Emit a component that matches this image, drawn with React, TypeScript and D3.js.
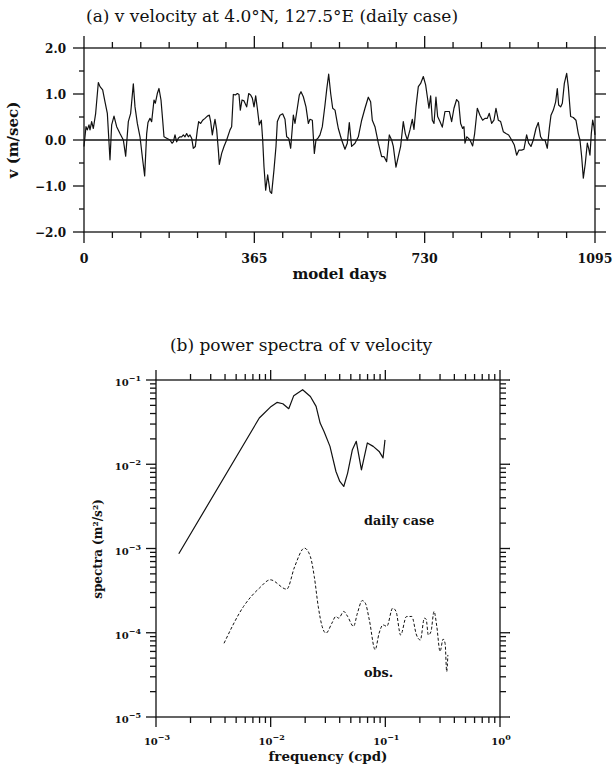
import React from "react";
import * as d3 from "d3";

// ---- Panel (a): daily v velocity time series ----
const days = [0,4.3,7.1,10.7,12.9,16.4,20,25,30.7,34.3,40,45,50,55.7,59.3,64.3,70,77.1,84.3,89.3,95,100,105.7,109.3,114.3,120,125.7,130,134.3,137.1,141.4,145,150,152.9,157.1,160.7,165,168.6,171.4,177.1,184.3,188.6,191.4,195,198.6,202.1,205.7,209.3,212.9,216.4,220,223.6,227.1,230.7,234.3,238.6,242.9,245.7,250,254.3,259.3,264.3,268.6,271.4,275,277.9,280.7,284.3,287.9,290,295,300,305.7,312.9,316.4,320,324.3,328.6,332.1,335,338.6,342.9,348.6,352.9,357.1,360.7,364.3,367.9,371.4,375.7,380,382.9,385.7,389.3,393.6,398.6,402.1,407.1,411.4,414.3,420,425.7,430.7,434.3,438.6,442.9,448.6,452.1,457.1,461.4,465,470,475.7,480.7,484.3,489.3,493.6,497.1,501.4,505.7,510.7,516.4,520,524.3,528.6,532.9,537.9,542.9,545,552.1,559.2,564.2,568.5,573.5,580.7,587.8,595,602.1,609.2,614.2,617.8,623.5,630.7,637.8,642.8,648.5,654.2,659.2,662.8,668.5,673.5,678.5,684.2,688.5,692.8,698.5,703.5,707.1,711.4,716.4,721.4,727.1,732.1,735.7,739.2,742.8,746.4,750,754.2,757.8,762.8,767.8,773.5,778.5,782.8,787.8,792.8,798.5,802.8,807.1,811.4,814.2,816.4,820,823.5,827.1,832.8,837.1,842.8,848.5,854.2,859.2,864.2,868.5,873.5,878.5,882.8,887.8,892.8,898.5,904.2,910,916.4,922.1,927.1,932.1,937.8,942.8,948.5,952.8,957.8,962.8,968.5,973.5,978.5,982.8,987.8,992.8,997.1,1000.7,1005.7,1010.7,1014.2,1017.1,1021.4,1025,1029.3,1034.3,1037.8,1042.8,1048.5,1054.2,1059.2,1062.8,1066.4,1070,1074.2,1078.5,1081.4,1084.2,1087.1,1090,1092.8,1095];
const vVel = [-0.14,0.29,0.22,0.33,0.22,0.40,0.25,0.58,1.25,1.16,1.09,0.83,0.58,-0.43,0.33,0.52,0.29,0.14,0.0,-0.35,0.40,0.58,1.22,0.72,0.36,0.07,-0.43,-0.78,0.14,0.38,0.47,0.40,0.87,0.80,1.01,1.12,0.87,0.43,0.07,0.04,0.0,-0.07,-0.04,0.11,-0.04,0.04,0.07,0.07,0.11,0.07,0.14,0.07,0.11,0.04,-0.18,-0.14,0.22,0.40,0.36,0.43,0.47,0.52,0.54,0.40,0.11,0.29,0.45,0.22,-0.22,-0.53,-0.29,-0.14,0.0,0.22,0.29,0.99,0.98,1.01,0.99,0.65,0.87,0.85,0.72,1.01,0.98,0.91,0.72,0.96,0.69,0.33,0.43,0.0,-0.58,-1.09,-0.76,-1.12,-1.16,-0.65,-0.14,0.40,0.54,0.57,0.45,0.07,0.04,-0.18,0.54,0.36,0.69,0.98,1.05,0.94,0.72,0.36,0.45,0.43,-0.29,0.0,0.04,0.11,0.29,0.76,1.09,1.43,1.01,0.69,0.65,0.36,0.25,0.0,-0.20,-0.07,0.38,-0.14,-0.07,0.07,0.43,0.69,0.93,0.83,0.43,0.29,-0.07,-0.36,-0.36,-0.47,0.11,0.0,-0.14,-0.59,-0.36,-0.14,0.40,0.14,0.0,0.22,0.45,0.23,0.72,1.16,1.23,1.38,1.20,0.94,0.69,0.96,0.43,0.36,0.93,0.51,0.40,0.28,0.62,0.62,0.62,0.40,0.69,0.88,0.83,0.36,0.25,0.29,-0.07,0.07,0.04,0.0,-0.13,0.14,0.69,0.54,0.43,0.47,0.47,0.58,0.36,0.43,0.69,0.43,0.40,0.18,0.14,0.11,0.0,-0.11,-0.33,-0.22,-0.22,-0.20,0.11,-0.07,-0.14,0.0,0.25,0.38,0.07,0.0,0.0,-0.18,0.25,0.54,0.65,0.83,1.12,0.76,0.72,0.80,1.23,1.45,1.16,0.51,0.49,0.43,0.14,0.0,-0.36,-0.83,-0.51,-0.07,-0.18,-0.33,0.14,0.43,0.29,0.11];
const dayTicks = [0, 365, 730, 1095];
const vTicks = [-2, -1, 0, 1, 2];
const vTickLabels = ["\u22122.0", "\u22121.0", "0.0", "1.0", "2.0"];

// ---- Panel (b): power spectra ----
const freqDaily = [0.00158,0.00796,0.0101,0.01135,0.01277,0.01438,0.0159,0.019,0.0222,0.0249,0.027,0.0292,0.0329,0.0371,0.0401,0.0434,0.0469,0.0516,0.0558,0.0619,0.0697,0.0784,0.0883,0.0955,0.0993];
const specDaily = [8.65e-4,0.0354,0.0486,0.0542,0.0523,0.0456,0.0652,0.0767,0.0638,0.0486,0.0308,0.0245,0.0163,0.0082,0.00625,0.00545,0.00785,0.0149,0.0187,0.0086,0.0179,0.0163,0.0142,0.0119,0.0195];
const freqObs = [0.00392,0.0058,0.00796,0.00993,0.0138,0.0162,0.0197,0.0222,0.024,0.026,0.0281,0.0304,0.0342,0.037,0.0392,0.0434,0.0469,0.0528,0.0571,0.0629,0.067,0.0725,0.0815,0.0883,0.0955,0.103,0.116,0.124,0.136,0.153,0.17,0.187,0.202,0.219,0.227,0.237,0.25,0.266,0.281,0.3,0.319,0.332,0.343,0.351];
const specObs = [7.5e-5,2.05e-4,3.38e-4,4.25e-4,3.29e-4,6.1e-4,1.01e-3,8.0e-4,4.65e-4,2.05e-4,1.19e-4,9.9e-5,1.3e-4,1.56e-4,1.49e-4,1.79e-4,1.56e-4,1.19e-4,1.71e-4,2.41e-4,2.24e-4,1.42e-4,6.3e-5,9.9e-5,1.24e-4,1.19e-4,1.96e-4,1.79e-4,9.4e-5,1.56e-4,1.56e-4,9.4e-5,8.2e-5,1.49e-4,1.45e-4,9.4e-5,1.03e-4,1.79e-4,1.19e-4,6.0e-5,8.4e-5,7.5e-5,3.46e-5,5.45e-5];
const decadeExps = [-3, -2, -1, 0];
const specExps = [-5, -4, -3, -2, -1];

const FONT = "'DejaVu Serif', serif";

export default function App() {
  // panel a scales
  const xA = d3.scaleLinear().domain([0, 1095]).range([84, 595]);
  const yA = d3.scaleLinear().domain([-2, 2]).range([232, 48]);
  const lineA = d3.line<number>().x((_, i) => xA(days[i])).y((d) => yA(d));
  const minorDays = d3.range(0, 1095.01, 365 / 6).filter((d) => !dayTicks.some((t) => Math.abs(t - d) < 1));
  const minorV = [-1.5, -0.5, 0.5, 1.5];

  // panel b scales
  const xB = d3.scaleLog().domain([1e-3, 1]).range([156, 500]);
  const yB = d3.scaleLog().domain([1e-5, 1e-1]).range([717, 380]);
  const lineDaily = d3.line<number>().x((_, i) => xB(freqDaily[i])).y((d) => yB(d));
  const lineObs = d3.line<number>().x((_, i) => xB(freqObs[i])).y((d) => yB(d)).curve(d3.curveMonotoneX);
  const minorF: number[] = [];
  for (const e of [-3, -2, -1]) for (let k = 2; k <= 9; k++) minorF.push(k * Math.pow(10, e));
  const minorS: number[] = [];
  for (const e of [-5, -4, -3, -2]) for (let k = 2; k <= 9; k++) minorS.push(k * Math.pow(10, e));

  const sw = 1.3;
  const [ax0, ax1] = xA.range();
  const [ayb, ayt] = yA.range();
  const [bx0, bx1] = xB.range();
  const [byb, byt] = yB.range();

  return (
    <svg width={613} height={767} style={{ position: "absolute", left: 0, top: 0, background: "#fff" }} fontFamily={FONT}>
      <rect x={0} y={0} width={613} height={767} fill="#fff" />
      {/* ===== Panel (a) ===== */}
      <text x={86} y={22} fontSize={17} fill="#111">(a) v velocity at 4.0°N, 127.5°E (daily case)</text>
      <g stroke="#111" strokeWidth={sw} fill="none">
        <rect x={ax0} y={ayt} width={ax1 - ax0} height={ayb - ayt} />
        <line x1={ax0} x2={ax1} y1={yA(0)} y2={yA(0)} />
        {dayTicks.map((t) => (
          <g key={"dt" + t}>
            <line x1={xA(t)} x2={xA(t)} y1={ayb} y2={ayb + 11} />
            <line x1={xA(t)} x2={xA(t)} y1={ayt} y2={ayt - 12} />
          </g>
        ))}
        {minorDays.map((t, i) => (
          <g key={"md" + i}>
            <line x1={xA(t)} x2={xA(t)} y1={ayb} y2={ayb + 6} />
            <line x1={xA(t)} x2={xA(t)} y1={ayt} y2={ayt - 6} />
          </g>
        ))}
        {vTicks.map((t) => (
          <g key={"vt" + t}>
            <line x1={ax0 - 11} x2={ax0} y1={yA(t)} y2={yA(t)} />
            <line x1={ax1} x2={ax1 + 11} y1={yA(t)} y2={yA(t)} />
          </g>
        ))}
        {minorV.map((t) => (
          <g key={"mv" + t}>
            <line x1={ax0 - 5} x2={ax0} y1={yA(t)} y2={yA(t)} />
            <line x1={ax1} x2={ax1 + 5} y1={yA(t)} y2={yA(t)} />
          </g>
        ))}
        <path d={lineA(vVel) || ""} strokeWidth={1.2} strokeLinejoin="round" />
      </g>
      {vTicks.map((t, i) => (
        <text key={"vl" + t} x={66} y={yA(t) + 4.5} fontSize={12} fontWeight="bold" textAnchor="end" fill="#111">{vTickLabels[i]}</text>
      ))}
      {dayTicks.map((t) => (
        <text key={"dl" + t} x={xA(t)} y={263} fontSize={12.5} fontWeight="bold" textAnchor="middle" fill="#111">{t}</text>
      ))}
      <text x={(ax0 + ax1) / 2} y={279} fontSize={15} fontWeight="bold" textAnchor="middle" fill="#111">model days</text>
      <text transform={`translate(18,${yA(0)}) rotate(-90)`} fontSize={15} fontWeight="bold" textAnchor="middle" fill="#111">v (m/sec)</text>

      {/* ===== Panel (b) ===== */}
      <text x={301} y={351} fontSize={17} textAnchor="middle" fill="#111">(b) power spectra of v velocity</text>
      <g stroke="#111" strokeWidth={sw} fill="none">
        <rect x={bx0} y={byt} width={bx1 - bx0} height={byb - byt} />
        {decadeExps.map((e) => {
          const x = xB(Math.pow(10, e));
          return (
            <g key={"fe" + e}>
              <line x1={x} x2={x} y1={byb} y2={byb + 10} />
              <line x1={x} x2={x} y1={byt} y2={byt - 10} />
            </g>
          );
        })}
        {minorF.map((f, i) => (
          <g key={"mf" + i}>
            <line x1={xB(f)} x2={xB(f)} y1={byb} y2={byb + 6} />
            <line x1={xB(f)} x2={xB(f)} y1={byt} y2={byt - 6} />
          </g>
        ))}
        {specExps.map((e) => {
          const y = yB(Math.pow(10, e));
          return (
            <g key={"se" + e}>
              <line x1={bx0 - 10} x2={bx0} y1={y} y2={y} />
              <line x1={bx1} x2={bx1 + 10} y1={y} y2={y} />
            </g>
          );
        })}
        {minorS.map((s, i) => (
          <g key={"ms" + i}>
            <line x1={bx0 - 6} x2={bx0} y1={yB(s)} y2={yB(s)} />
            <line x1={bx1} x2={bx1 + 6} y1={yB(s)} y2={yB(s)} />
          </g>
        ))}
        <path d={lineDaily(specDaily) || ""} strokeWidth={1.2} strokeLinejoin="round" />
        <path d={lineObs(specObs) || ""} strokeWidth={1} strokeDasharray="3,2" strokeLinejoin="round" />
      </g>
      {specExps.map((e) => (
        <text key={"sl" + e} x={141} y={yB(Math.pow(10, e)) + 6} fontSize={10} fontWeight="bold" textAnchor="end" fill="#111">
          10<tspan dy={-5} fontSize={8}>{"\u2212" + Math.abs(e)}</tspan>
        </text>
      ))}
      {decadeExps.map((e) => (
        <text key={"fl" + e} x={xB(Math.pow(10, e)) + 1} y={745} fontSize={10} fontWeight="bold" textAnchor="middle" fill="#111">
          10<tspan dy={-5} fontSize={8}>{e === 0 ? "0" : "\u2212" + Math.abs(e)}</tspan>
        </text>
      ))}
      <text x={328} y={761} fontSize={13.4} fontWeight="bold" textAnchor="middle" fill="#111">frequency (cpd)</text>
      <text transform={`translate(102,549) rotate(-90)`} fontSize={12} fontWeight="bold" textAnchor="middle" fill="#111">spectra (m²/s²)</text>
      <text x={364} y={525} fontSize={12.8} fontWeight="bold" fill="#111">daily case</text>
      <text x={364} y={677} fontSize={12.8} fontWeight="bold" fill="#111">obs.</text>
    </svg>
  );
}
